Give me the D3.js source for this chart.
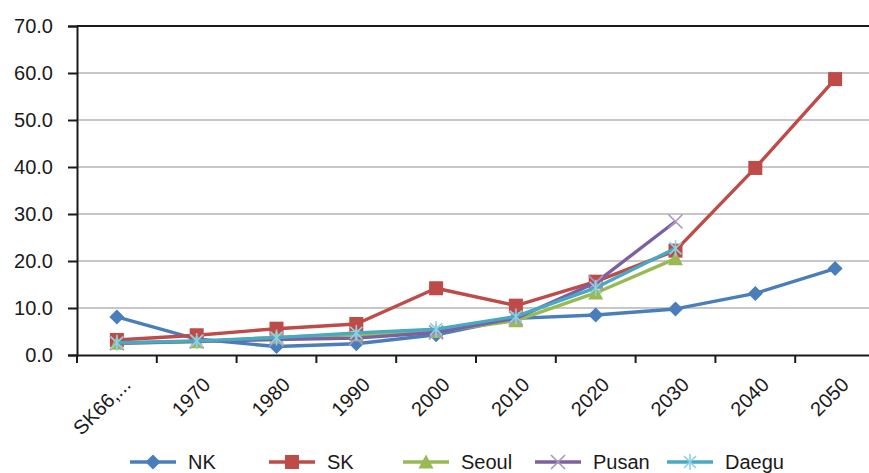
<!DOCTYPE html>
<html>
<head>
<meta charset="utf-8">
<script src="https://cdn.jsdelivr.net/npm/d3@7"></script>
<style>
  html, body { margin: 0; padding: 0; background: #fff; }
  svg { display: block; font-family: "Liberation Sans", Arial, Helvetica, sans-serif; }
</style>
</head>
<body>
<svg id="chart" width="869" height="473"></svg>
<script>
// Categories along the x axis
const categories = ["SK66,...", "1970", "1980", "1990", "2000", "2010", "2020", "2030", "2040", "2050"];

// Series values (percent)
const nkValues    = [8.1, 3.4, 1.8, 2.4, 4.3, 7.8, 8.5, 9.8, 13.1, 18.4];
const skValues    = [3.2, 4.2, 5.6, 6.6, 14.2, 10.5, 15.6, 22.2, 39.8, 58.7];
const seoulValues = [2.5, 2.8, 3.8, 4.3, 5.0, 7.3, 13.2, 20.5];
const pusanValues = [2.5, 2.9, 3.3, 3.6, 4.8, 7.8, 15.4, 28.4];
const daeguValues = [2.6, 3.0, 3.7, 4.7, 5.5, 8.2, 14.3, 22.7];

// Y axis tick values
const yTicks = [0, 10, 20, 30, 40, 50, 60, 70];

const series = [
  { name: "NK",    values: nkValues,    color: "#4a7ebb", marker: "diamond" },
  { name: "SK",    values: skValues,    color: "#be4b48", marker: "square" },
  { name: "Seoul", values: seoulValues, color: "#98b954", marker: "triangle" },
  { name: "Pusan", values: pusanValues, color: "#7d60a0", marker: "cross" },
  { name: "Daegu", values: daeguValues, color: "#46aac5", marker: "asterisk" }
];

const svg = d3.select("#chart");

const x = d3.scaleBand().domain(categories).range([77, 875]).padding(0);
const y = d3.scaleLinear().domain([0, 70]).range([355, 26]);
const cx = c => x(c) + x.bandwidth() / 2;

// Horizontal gridlines
svg.append("g")
  .selectAll("line")
  .data(yTicks.filter(t => t > 0))
  .join("line")
  .attr("x1", 77).attr("x2", 869)
  .attr("y1", d => y(d)).attr("y2", d => y(d))
  .attr("stroke", d => d === 70 ? "#1a1a1a" : "#b4b4b4")
  .attr("stroke-width", d => d === 70 ? 2 : 1.6);

// Y axis
const yAxis = svg.append("g")
  .attr("transform", "translate(77,0)")
  .call(d3.axisLeft(y).tickValues(yTicks).tickFormat(d3.format(".1f")).tickSize(9).tickPadding(15));
yAxis.select(".domain").attr("stroke", "#1a1a1a").attr("stroke-width", 2);
yAxis.selectAll(".tick line").attr("stroke", "#1a1a1a").attr("stroke-width", 2);
yAxis.selectAll(".tick text")
  .attr("fill", "#1a1a1a")
  .style("font-size", "20px")
  .style("font-family", "'Liberation Sans', Arial, sans-serif");

// X axis
const xAxis = svg.append("g")
  .attr("transform", "translate(0,355)")
  .call(d3.axisBottom(x).tickSize(0).tickFormat(""));
xAxis.select(".domain").attr("stroke", "#1a1a1a").attr("stroke-width", 2);

// Tick marks at category boundaries
svg.append("g")
  .selectAll("line")
  .data(categories)
  .join("line")
  .attr("x1", d => x(d)).attr("x2", d => x(d))
  .attr("y1", 355).attr("y2", 363)
  .attr("stroke", "#1a1a1a").attr("stroke-width", 2);

// Rotated category labels
svg.append("g")
  .selectAll("text")
  .data(categories)
  .join("text")
  .attr("transform", d => `translate(${cx(d) + 10},${381}) rotate(-45)`)
  .attr("text-anchor", "end")
  .attr("dy", "0.35em")
  .attr("fill", "#1a1a1a")
  .style("font-size", "20px")
  .text(d => d);

// Marker shapes
function drawMarker(g, type, color) {
  if (type === "diamond") {
    g.append("path").attr("d", "M0,-7.5L7.5,0L0,7.5L-7.5,0Z").attr("fill", color);
  } else if (type === "square") {
    g.append("rect").attr("x", -7).attr("y", -7).attr("width", 14).attr("height", 14).attr("fill", color);
  } else if (type === "triangle") {
    g.append("path").attr("d", "M0,-7.5L7.5,6.5L-7.5,6.5Z").attr("fill", color);
  } else if (type === "cross") {
    g.append("path").attr("d", "M-7,-7L7,7M7,-7L-7,7").attr("stroke", "#a998c4").attr("stroke-width", 1.6);
  } else if (type === "asterisk") {
    g.append("path").attr("d", "M-6,-6L6,6M6,-6L-6,6M0,-8L0,8").attr("stroke", "#8fd0e2").attr("stroke-width", 1.6);
  }
}

const line = d3.line()
  .x((d, i) => cx(categories[i]))
  .y(d => y(d));

series.forEach(s => {
  const g = svg.append("g");
  g.append("path")
    .datum(s.values)
    .attr("d", line)
    .attr("fill", "none")
    .attr("stroke", s.color)
    .attr("stroke-width", 3.4)
    .attr("stroke-linejoin", "round");
  g.selectAll("g.pt")
    .data(s.values)
    .join("g")
    .attr("class", "pt")
    .attr("transform", (d, i) => `translate(${cx(categories[i])},${y(d)})`)
    .each(function () { drawMarker(d3.select(this), s.marker, s.color); });
});

// Legend
const legendX = [130, 269, 403, 535, 667];
const legend = svg.append("g");
series.forEach((s, i) => {
  const g = legend.append("g").attr("transform", `translate(${legendX[i]},462)`);
  g.append("line").attr("x1", 0).attr("x2", 46).attr("y1", 0).attr("y2", 0)
    .attr("stroke", s.color).attr("stroke-width", 3.4);
  drawMarker(g.append("g").attr("transform", "translate(23,0)"), s.marker, s.color);
  g.append("text").attr("x", 58).attr("y", 0).attr("dy", "0.35em")
    .attr("fill", "#1a1a1a").style("font-size", "20px").text(s.name);
});
</script>
</body>
</html>
